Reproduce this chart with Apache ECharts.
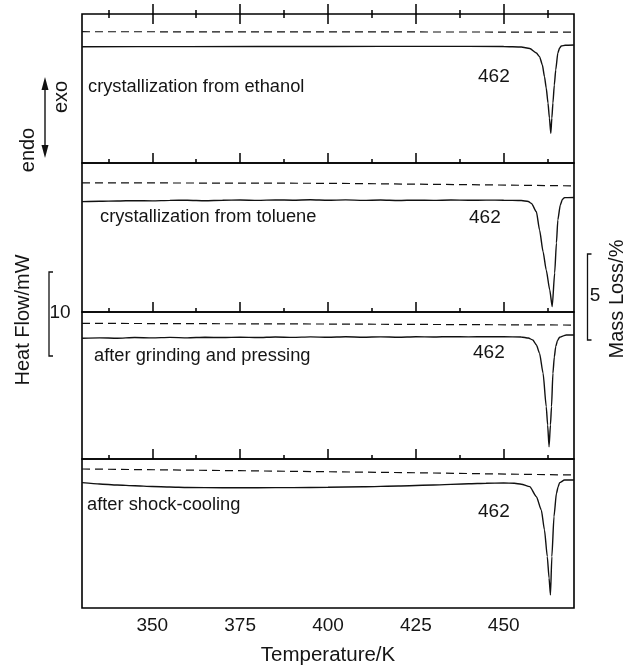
<!DOCTYPE html>
<html>
<head>
<meta charset="utf-8">
<script src="https://cdn.jsdelivr.net/npm/echarts@6/dist/echarts.min.js"></script>
<style>
html,body{margin:0;padding:0;background:#fff;}
#chart{width:629px;height:666px;}
</style>
</head>
<body>
<div id="chart"></div>
<script>
// ---- data ----
const xMin = 330, xMax = 470;
const majorTicks = [350, 375, 400, 425, 450];
const minorTicks = [337.5, 362.5, 387.5, 412.5, 437.5, 462.5];
const panelLabels = ['crystallization from ethanol', 'crystallization from toluene', 'after grinding and pressing', 'after shock-cooling'];
const peakLabels = ['462', '462', '462', '462'];

// DSC heat flow (mW, relative to panel top)
const temp1 = [330,360,400,430,450,455,457.4,459.3,460.2,461.0,461.6,462.1,462.6,463.0,463.4,463.7,464.0,464.4,464.8,465.4,465.9,466.4,467.5,470];
const heat1 = [-3.77,-3.76,-3.75,-3.73,-3.75,-3.81,-3.98,-4.50,-4.92,-5.88,-7.23,-8.54,-10.27,-11.99,-13.76,-11.99,-10.27,-8.19,-6.46,-4.50,-3.92,-3.69,-3.60,-3.58];

const temp2 = [330,335,340,345,350,355,360,365,370,375,380,385,390,395,400,405,410,415,420,425,430,435,440,445,450,455,457.0,457.9,459.3,460.2,461.2,462.1,463.1,463.8,464.5,465.0,465.4,466.1,466.7,467.3,470];
const heat2 = [-4.46,-4.42,-4.38,-4.34,-4.37,-4.31,-4.29,-4.35,-4.30,-4.27,-4.31,-4.26,-4.29,-4.24,-4.30,-4.26,-4.31,-4.27,-4.33,-4.28,-4.31,-4.27,-4.30,-4.28,-4.29,-4.33,-4.44,-4.67,-5.62,-7.73,-10.23,-12.34,-14.65,-16.57,-12.69,-9.23,-6.57,-4.84,-4.21,-4.00,-3.98];

const temp3 = [330,335,340,345,350,355,360,365,370,375,380,385,390,395,400,405,410,415,420,425,430,435,440,445,450,455,457.0,458.3,459.3,460.2,461.2,462.1,462.5,462.9,463.3,463.6,464.0,464.4,464.8,465.3,465.9,467.0,467.8,470];
const heat3 = [-3.03,-2.98,-3.02,-2.95,-2.99,-2.93,-2.98,-2.92,-2.95,-2.91,-2.95,-2.88,-2.93,-2.87,-2.92,-2.86,-2.91,-2.87,-2.91,-2.85,-2.88,-2.84,-2.87,-2.84,-2.86,-2.88,-3.00,-3.23,-3.81,-4.76,-7.07,-10.92,-13.03,-15.54,-13.03,-10.92,-7.07,-5.19,-4.00,-3.29,-2.92,-2.75,-2.65,-2.65];

const temp4 = [330,335,340,345,350,355,360,370,380,390,400,410,420,430,440,445,450,453,455,457.4,459.3,460.7,461.6,462.4,462.9,463.3,463.7,464.3,465.0,465.5,465.9,467.3,470];
const heat4 = [-2.73,-2.88,-3.00,-3.09,-3.18,-3.23,-3.29,-3.32,-3.31,-3.30,-3.26,-3.21,-3.11,-3.00,-2.86,-2.80,-2.77,-2.80,-2.91,-3.19,-4.35,-5.88,-8.19,-11.26,-13.73,-15.69,-11.26,-6.66,-3.96,-3.19,-2.73,-2.42,-2.42];

// TG mass loss (%, relative to panel top)
const massT1 = [330,400,460,470];
const mass1 = [-1.03,-1.04,-1.05,-1.06];
const massT2 = [330,400,440,470];
const mass2 = [-1.15,-1.18,-1.26,-1.33];
const massT3 = [330,400,470];
const mass3 = [-0.66,-0.70,-0.76];
const massT4 = [330,375,400,425,445,470];
const mass4 = [-0.58,-0.68,-0.74,-0.80,-0.86,-0.93];

// ---- chart ----
const FONT = 'Liberation Sans, Arial, Helvetica, sans-serif';
const TXT = '#151515';
const tempsH = [temp1, temp2, temp3, temp4];
const heats = [heat1, heat2, heat3, heat4];
const tempsM = [massT1, massT2, massT3, massT4];
const masses = [mass1, mass2, mass3, mass4];

const gridTops = [14, 163, 312, 459];
const gridHeights = [149, 149, 147, 149];
const heatMin = [-17.19, -17.19, -16.96, -17.19];
const massMin = [-8.66, -8.66, -8.55, -8.66];

const zip = (a, b) => a.map((v, i) => [v, b[i]]);

const grids = [], xAxes = [], yAxes = [], series = [];
for (let i = 0; i < 4; i++) {
  grids.push({left: 82, right: 55, top: gridTops[i], height: gridHeights[i], show: true, borderColor: '#000', borderWidth: 1.6, backgroundColor: 'transparent'});
  const mk = (pos, ticks, len, labels) => ({
    gridIndex: i, type: 'value', min: xMin, max: xMax, position: pos,
    axisLine: {show: false}, splitLine: {show: false},
    axisTick: {show: true, inside: true, length: len, customValues: ticks, lineStyle: {color: '#000', width: 1.5}},
    axisLabel: labels ? {show: true, customValues: majorTicks, margin: 8, fontSize: 19, color: TXT, fontFamily: FONT} : {show: false}
  });
  const majorIdx = xAxes.length;
  xAxes.push(mk('bottom', majorTicks, 10, i === 3));
  xAxes.push(mk('bottom', minorTicks, 4, false));
  if (i === 0) {
    xAxes.push(mk('top', majorTicks, 10, false));
    xAxes.push(mk('top', minorTicks, 4, false));
  }
  yAxes.push({gridIndex: i, type: 'value', min: heatMin[i], max: 0, show: false});
  yAxes.push({gridIndex: i, type: 'value', min: massMin[i], max: 0, show: false});
  series.push({
    type: 'line', xAxisIndex: majorIdx, yAxisIndex: 2 * i, data: zip(tempsH[i], heats[i]),
    showSymbol: false, silent: true, smooth: 0.2, smoothMonotone: 'x',
    lineStyle: {color: '#111', width: 1.4}
  });
  series.push({
    type: 'line', xAxisIndex: majorIdx, yAxisIndex: 2 * i + 1, data: zip(tempsM[i], masses[i]),
    showSymbol: false, silent: true, lineStyle: {color: '#111', width: 1.2, type: [8, 5]}
  });
}

const txt = (text, x, y, opts) => Object.assign({
  type: 'text', x: x, y: y, silent: true,
  style: Object.assign({text: text, x: 0, y: 0, fill: TXT, font: '18.3px ' + FONT, textAlign: 'left', textVerticalAlign: 'middle'}, (opts && opts.style) || {})
}, opts && opts.rotation !== undefined ? {rotation: opts.rotation} : {});

const labelPos = [[88, 87], [100, 217], [94, 356], [87, 505]];
const peakPos = [[478, 77], [469, 218], [473, 353], [478, 512]];

const graphics = [];
for (let i = 0; i < 4; i++) {
  graphics.push(txt(panelLabels[i], labelPos[i][0], labelPos[i][1]));
  graphics.push(txt(peakLabels[i], peakPos[i][0], peakPos[i][1], {style: {font: '19px ' + FONT}}));
}
// axis titles
graphics.push(txt('Temperature/K', 328, 655, {style: {font: '20.5px ' + FONT, textAlign: 'center'}}));
graphics.push(txt('Heat Flow/mW', 23, 320, {rotation: Math.PI / 2, style: {font: '20px ' + FONT, textAlign: 'center'}}));
graphics.push(txt('Mass Loss/%', 617, 299, {rotation: Math.PI / 2, style: {font: '20px ' + FONT, textAlign: 'center'}}));
graphics.push(txt('endo', 28, 150, {rotation: Math.PI / 2, style: {font: '20px ' + FONT, textAlign: 'center'}}));
graphics.push(txt('exo', 61, 97, {rotation: Math.PI / 2, style: {font: '20px ' + FONT, textAlign: 'center'}}));
// scale bars
graphics.push({type: 'polyline', silent: true, shape: {points: [[53, 272], [49, 272], [49, 356], [53, 356]]}, style: {stroke: '#111', lineWidth: 1.3, fill: null}});
graphics.push(txt('10', 60, 313, {style: {font: '19px ' + FONT, textAlign: 'center'}}));
graphics.push({type: 'polyline', silent: true, shape: {points: [[591.5, 254], [587.5, 254], [587.5, 340], [591.5, 340]]}, style: {stroke: '#111', lineWidth: 1.3, fill: null}});
graphics.push(txt('5', 595, 296, {style: {font: '19px ' + FONT, textAlign: 'center'}}));
// endo/exo arrow
graphics.push({type: 'line', silent: true, shape: {x1: 45, y1: 86, x2: 45, y2: 149}, style: {stroke: '#111', lineWidth: 1.4}});
graphics.push({type: 'polygon', silent: true, shape: {points: [[45, 77], [41.5, 90], [48.5, 90]]}, style: {fill: '#111'}});
graphics.push({type: 'polygon', silent: true, shape: {points: [[45, 158], [41.5, 145], [48.5, 145]]}, style: {fill: '#111'}});

const chart = echarts.init(document.getElementById('chart'), null, {renderer: 'canvas'});
chart.setOption({
  animation: false,
  backgroundColor: '#fff',
  grid: grids,
  xAxis: xAxes,
  yAxis: yAxes,
  series: series,
  graphic: graphics
});
</script>
</body>
</html>
